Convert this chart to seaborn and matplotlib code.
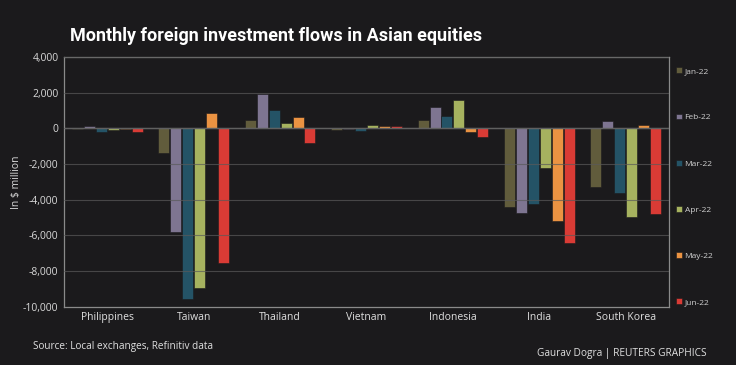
import pandas as pd
import seaborn as sns
import matplotlib.pyplot as plt

# values, $ million
countries = ['Philippines', 'Taiwan', 'Thailand', 'Vietnam', 'Indonesia', 'India', 'South Korea']
months = ['Jan-22', 'Feb-22', 'Mar-22', 'Apr-22', 'May-22', 'Jun-22']
jan = [-20, -1365, 470, -110, 470, -4430, -3290]
feb = [150, -5800, 1910, -20, 1215, -4730, 430]
mar = [-205, -9590, 1010, -170, 673, -4265, -3630]
apr = [-110, -8975, 300, 205, 1610, -2225, -4975]
may = [-15, 840, 655, 150, -225, -5180, 187]
jun = [-200, -7550, -820, 150, -505, -6415, -4805]

colors = ['#615c3c', '#7e7591', '#245366', '#a6b25f', '#eb9342', '#d93b35']
bg = '#1b1a1c'

df = pd.DataFrame({'country': countries, 'Jan-22': jan, 'Feb-22': feb, 'Mar-22': mar,
                   'Apr-22': apr, 'May-22': may, 'Jun-22': jun})
long_df = df.melt(id_vars='country', var_name='month', value_name='flow')

sns.set_style('dark')
plt.rcParams['font.family'] = ['Open Sans', 'DejaVu Sans']

fig = plt.figure(figsize=(7.36, 3.65), dpi=100, facecolor=bg)
ax = fig.add_axes([0.087, 0.160, 0.822, 0.684])
ax.set_facecolor(bg)

sns.barplot(data=long_df, x='country', y='flow', hue='month', hue_order=months,
            palette=colors, width=0.83, gap=0.08, edgecolor='#1b1a1c', linewidth=0.4,
            saturation=1, ax=ax)

ax.set_ylim(-10000, 4000)
ax.set_yticks(range(-10000, 4001, 2000))
ax.set_yticklabels([f'{v:,}' for v in range(-10000, 4001, 2000)], color='#d8d8d8', fontsize=7.5)
ax.set_xticks(range(len(countries)))
ax.set_xticklabels(countries, color='#e0e0e0', fontsize=7.5)
ax.tick_params(axis='both', length=0, pad=4)
ax.set_xlabel('')
ax.set_ylabel('In $ million', color='#d8d8d8', fontsize=7.5, labelpad=1)

ax.grid(axis='y', color='#5a5a5a', linewidth=0.8, alpha=0.7)
ax.grid(axis='x', visible=False)
ax.set_axisbelow(False)
ax.axhline(0, color='#707070', linewidth=1.0)
for s in ax.spines.values():
    s.set_visible(True)
    s.set_color('#8a8a8a')
    s.set_linewidth(0.9)

leg = ax.legend(loc='upper left', bbox_to_anchor=(1.005, 0.975), frameon=False,
                fontsize=6, labelcolor='#d0d0d0', labelspacing=4.6,
                handlelength=0.7, handleheight=0.7, handletextpad=0.3, borderpad=0)

fig.text(0.095, 0.887, 'Monthly foreign investment flows in Asian equities',
         color='white', fontsize=13, fontweight='bold', family=['Roboto', 'DejaVu Sans'])
fig.text(0.045, 0.045, 'Source: Local exchanges, Refinitiv data', color='#e0e0e0', fontsize=7.2)
fig.text(0.96, 0.025, 'Gaurav Dogra | REUTERS GRAPHICS', color='#e0e0e0', fontsize=7.3, ha='right')

plt.savefig('out.png', dpi=100, facecolor=bg)
